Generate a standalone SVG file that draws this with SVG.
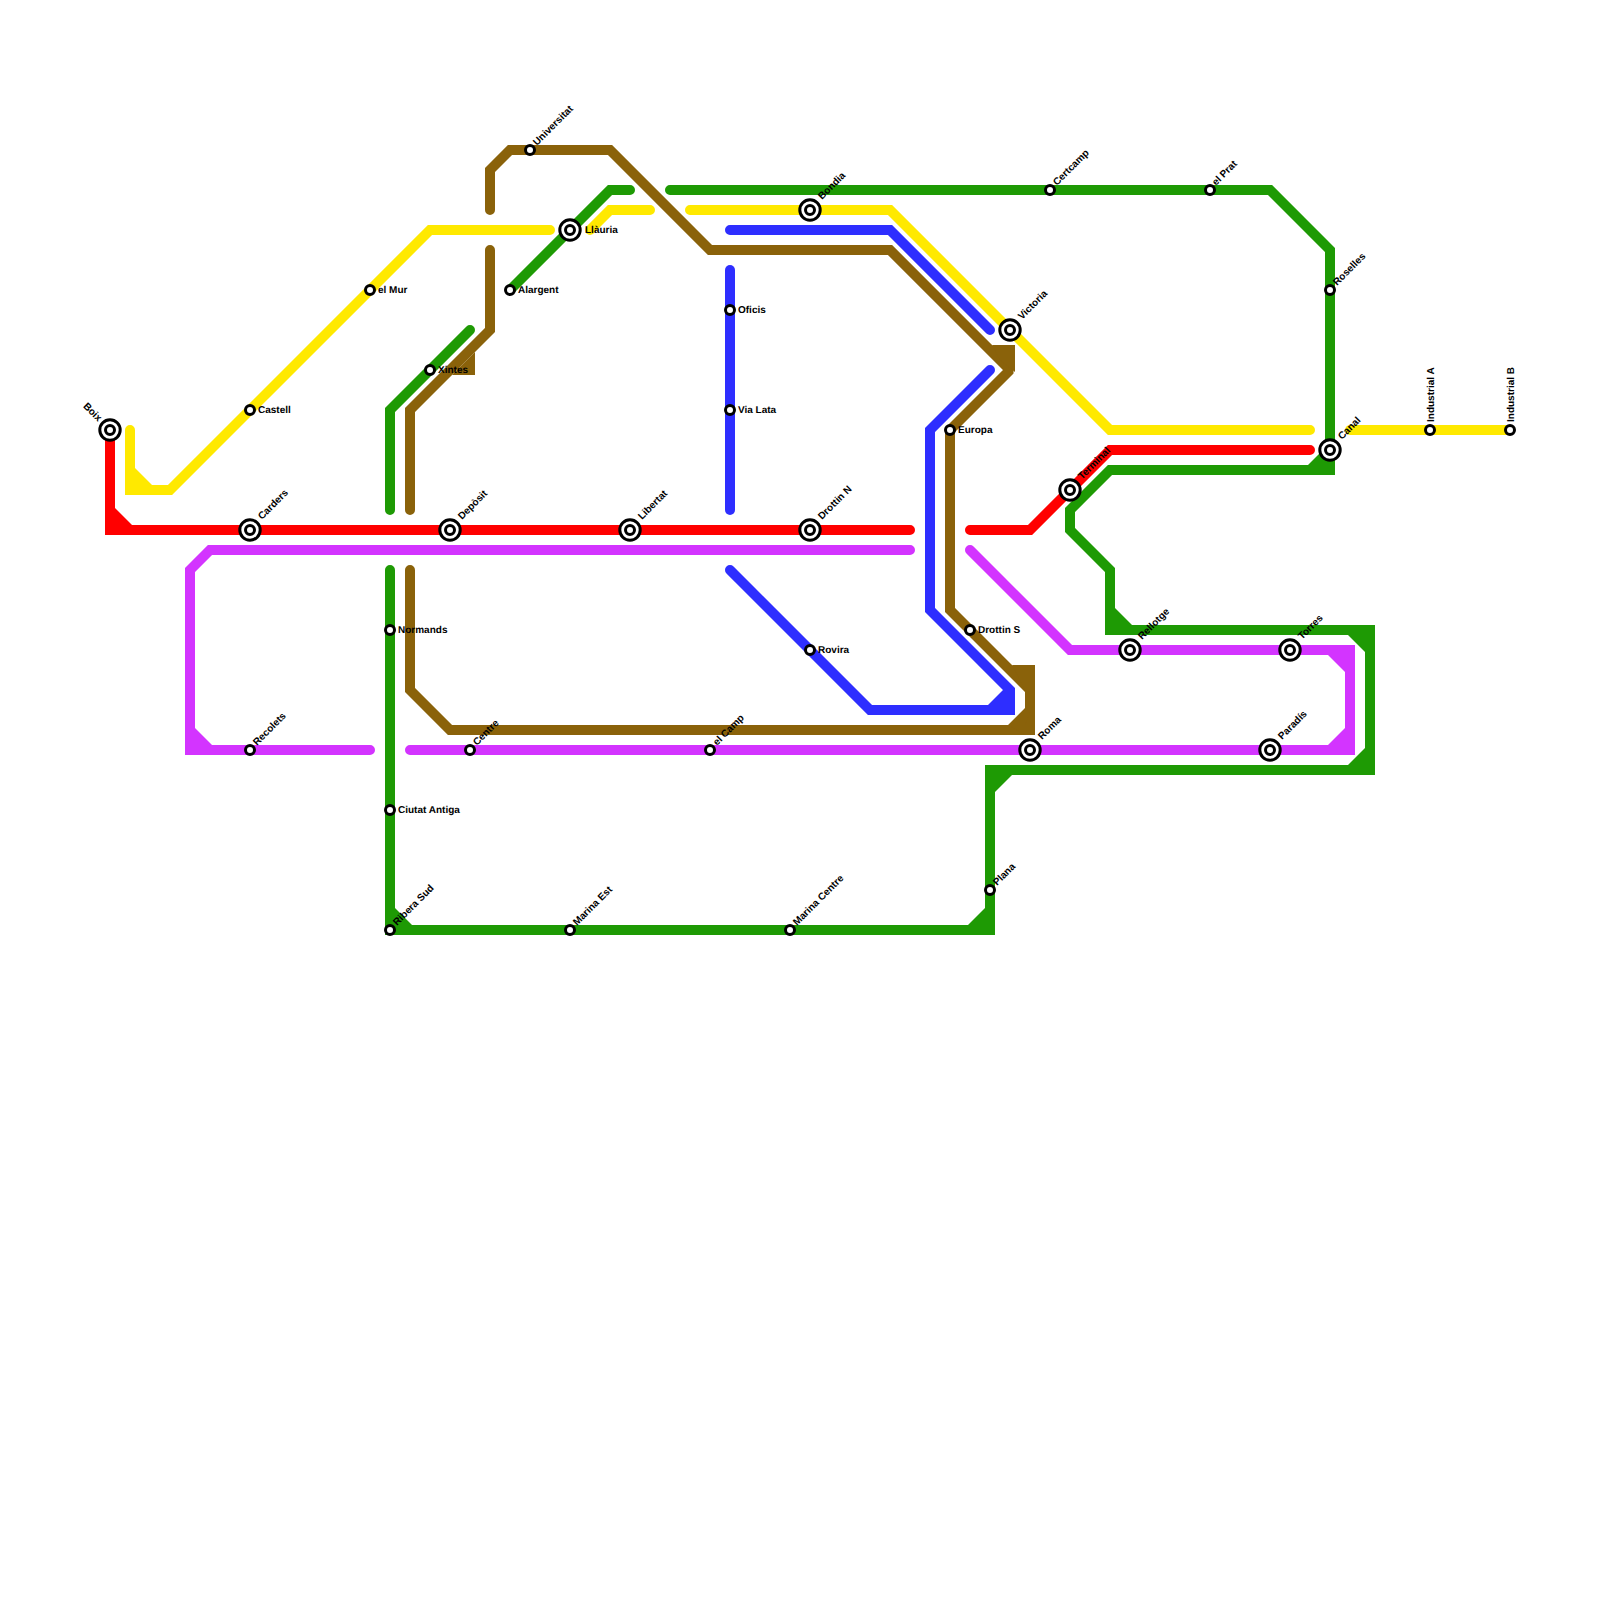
<svg xmlns="http://www.w3.org/2000/svg" width="1600" height="1600" viewBox="0 0 1600 1600">
<style>
.l{fill:none;stroke-width:10;stroke-linecap:round;stroke-linejoin:miter;stroke-miterlimit:4}
.red{stroke:#ff0000}.yel{stroke:#ffe900}.grn{stroke:#1e9a04}.pur{stroke:#d334ff}.blu{stroke:#2e2eff}.bro{stroke:#8a620a}
.fred{fill:#ff0000}.fyel{fill:#ffe900}.fgrn{fill:#1e9a04}.fpur{fill:#d334ff}.fblu{fill:#2e2eff}.fbro{fill:#8a620a}
.s{fill:#fff;stroke:#000;stroke-width:3}
text{font-family:"Liberation Sans",Arial,sans-serif;font-weight:bold;font-size:10px;fill:#000;text-rendering:geometricPrecision}
</style>
<rect width="1600" height="1600" fill="#fff"/>
<g id="connectors">
<path class="l yel" d="M130 430V490H170L430 230H550"/>
<path class="l yel" d="M590 230L610 210H650"/>
<path class="l yel" d="M690 210H890L1110 430H1310"/>
<path class="l yel" d="M1350 430H1510"/>
<polygon class="fyel" points="135,468 152,485 135,485"/>
<path class="l bro" style="stroke-miterlimit:1.4" d="M490 210V170L510 150H610L710 250H890L1010 370L950 430V610L1030 690V730H450L410 690V570"/>
<path class="l bro" d="M490 250V330L410 410V510"/>
<polygon class="fbro" points="475,352 475,375 452,375"/>
<polygon class="fbro" points="992,345 1015,345 1015,372 1000,360"/>
<polygon class="fbro" points="1012,665 1035,665 1035,700 1025,690"/>
<polygon class="fbro" points="1008,725 1025,708 1025,725 1035,700 1035,735 1025,735"/>
<path class="l blu" d="M730 230H890L990 330"/>
<path class="l blu" d="M730 270V510"/>
<path class="l blu" d="M730 570L870 710H1010V690L930 610V430L990 370"/>
<polygon class="fblu" points="988,705 1005,688 1005,705"/>
<path class="l grn" d="M390 510V410L470 330"/>
<path class="l grn" d="M510 290L610 190H630"/>
<path class="l grn" d="M670 190H1270L1330 250V470H1110L1070 510V530L1110 570V630H1370V770H990V930H390V570"/>
<polygon class="fgrn" points="1325,448 1308,465 1325,465"/>
<polygon class="fgrn" points="1115,608 1132,625 1115,625"/>
<polygon class="fgrn" points="1348,635 1365,652 1365,635"/>
<polygon class="fgrn" points="1348,765 1365,748 1365,765"/>
<polygon class="fgrn" points="995,775 1012,775 995,792"/>
<polygon class="fgrn" points="395,908 412,925 395,925"/>
<polygon class="fgrn" points="985,908 968,925 985,925"/>
<path class="l pur" d="M910 550H210L190 570V750H370"/>
<path class="l pur" d="M410 750H1350V650H1070L970 550"/>
<polygon class="fpur" points="195,728 212,745 195,745"/>
<polygon class="fpur" points="1328,655 1345,672 1345,655"/>
<polygon class="fpur" points="1328,745 1345,728 1345,745"/>
<path class="l red" d="M110 430V530H910"/>
<path class="l red" d="M970 530H1030L1110 450H1310"/>
<polygon class="fred" points="115,508 132,525 115,525"/>
</g>
<defs>
<g id="big"><circle r="10.2" class="s"/><circle r="4.5" class="s"/></g>
<circle id="sm" r="4.5" class="s"/>
</defs>
<g id="boix"><use href="#big" x="110" y="430"/><text transform="translate(98,422) rotate(45)" text-anchor="end">Boix</text></g>
<g id="carders"><use href="#big" x="250" y="530"/><text transform="translate(262,520) rotate(-45)">Carders</text></g>
<g id="deposit"><use href="#big" x="450" y="530"/><text transform="translate(462,520) rotate(-45)">Depòsit</text></g>
<g id="libertat"><use href="#big" x="630" y="530"/><text transform="translate(642,520) rotate(-45)">Libertat</text></g>
<g id="drottin-n"><use href="#big" x="810" y="530"/><text transform="translate(822,520) rotate(-45)">Drottin N</text></g>
<g id="bondia"><use href="#big" x="810" y="210"/><text transform="translate(822,200) rotate(-45)">Bondia</text></g>
<g id="llauria"><use href="#big" x="570" y="230"/><text x="585" y="232.5">Llàuria</text></g>
<g id="victoria"><use href="#big" x="1010" y="330"/><text transform="translate(1022,320) rotate(-45)">Victoria</text></g>
<g id="terminal"><use href="#big" x="1070" y="490"/><text transform="translate(1082,480) rotate(-45)">Terminal</text></g>
<g id="roma"><use href="#big" x="1030" y="750"/><text transform="translate(1042,740) rotate(-45)">Roma</text></g>
<g id="rellotge"><use href="#big" x="1130" y="650"/><text transform="translate(1142,640) rotate(-45)">Rellotge</text></g>
<g id="torres"><use href="#big" x="1290" y="650"/><text transform="translate(1302,640) rotate(-45)">Torres</text></g>
<g id="paradis"><use href="#big" x="1270" y="750"/><text transform="translate(1282,740) rotate(-45)">Paradís</text></g>
<g id="canal"><use href="#big" x="1330" y="450"/><text transform="translate(1342,440) rotate(-45)">Canal</text></g>
<g id="castell"><use href="#sm" x="250" y="410"/><text x="258" y="412.5">Castell</text></g>
<g id="el-mur"><use href="#sm" x="370" y="290"/><text x="378" y="292.5">el Mur</text></g>
<g id="xintes"><use href="#sm" x="430" y="370"/><text x="438" y="372.5">Xintes</text></g>
<g id="alargent"><use href="#sm" x="510" y="290"/><text x="518" y="292.5">Alargent</text></g>
<g id="universitat"><use href="#sm" x="530" y="150"/><text transform="translate(537,146) rotate(-45)">Universitat</text></g>
<g id="oficis"><use href="#sm" x="730" y="310"/><text x="738" y="312.5">Oficis</text></g>
<g id="via-lata"><use href="#sm" x="730" y="410"/><text x="738" y="412.5">Via Lata</text></g>
<g id="rovira"><use href="#sm" x="810" y="650"/><text x="818" y="652.5">Rovira</text></g>
<g id="europa"><use href="#sm" x="950" y="430"/><text x="958" y="432.5">Europa</text></g>
<g id="drottin-s"><use href="#sm" x="970" y="630"/><text x="978" y="632.5">Drottin S</text></g>
<g id="plana"><use href="#sm" x="990" y="890"/><text transform="translate(997,886) rotate(-45)">Plana</text></g>
<g id="certcamp"><use href="#sm" x="1050" y="190"/><text transform="translate(1057,186) rotate(-45)">Certcamp</text></g>
<g id="el-prat"><use href="#sm" x="1210" y="190"/><text transform="translate(1216,186) rotate(-45)">el Prat</text></g>
<g id="roselles"><use href="#sm" x="1330" y="290"/><text transform="translate(1337,286) rotate(-45)">Roselles</text></g>
<g id="industrial-a"><use href="#sm" x="1430" y="430"/><text transform="translate(1433.5,422) rotate(-90)">Industrial A</text></g>
<g id="industrial-b"><use href="#sm" x="1510" y="430"/><text transform="translate(1513.5,422) rotate(-90)">Industrial B</text></g>
<g id="normands"><use href="#sm" x="390" y="630"/><text x="398" y="632.5">Normands</text></g>
<g id="ciutat-antiga"><use href="#sm" x="390" y="810"/><text x="398" y="812.5">Ciutat Antiga</text></g>
<g id="ribera-sud"><use href="#sm" x="390" y="930"/><text transform="translate(397,926) rotate(-45)">Ribera Sud</text></g>
<g id="marina-est"><use href="#sm" x="570" y="930"/><text transform="translate(577,926) rotate(-45)">Marina Est</text></g>
<g id="marina-centre"><use href="#sm" x="790" y="930"/><text transform="translate(797,926) rotate(-45)">Marina Centre</text></g>
<g id="recolets"><use href="#sm" x="250" y="750"/><text transform="translate(257,746) rotate(-45)">Recolets</text></g>
<g id="centre"><use href="#sm" x="470" y="750"/><text transform="translate(477,746) rotate(-45)">Centre</text></g>
<g id="el-camp"><use href="#sm" x="710" y="750"/><text transform="translate(717,746) rotate(-45)">el Camp</text></g>
</svg>
